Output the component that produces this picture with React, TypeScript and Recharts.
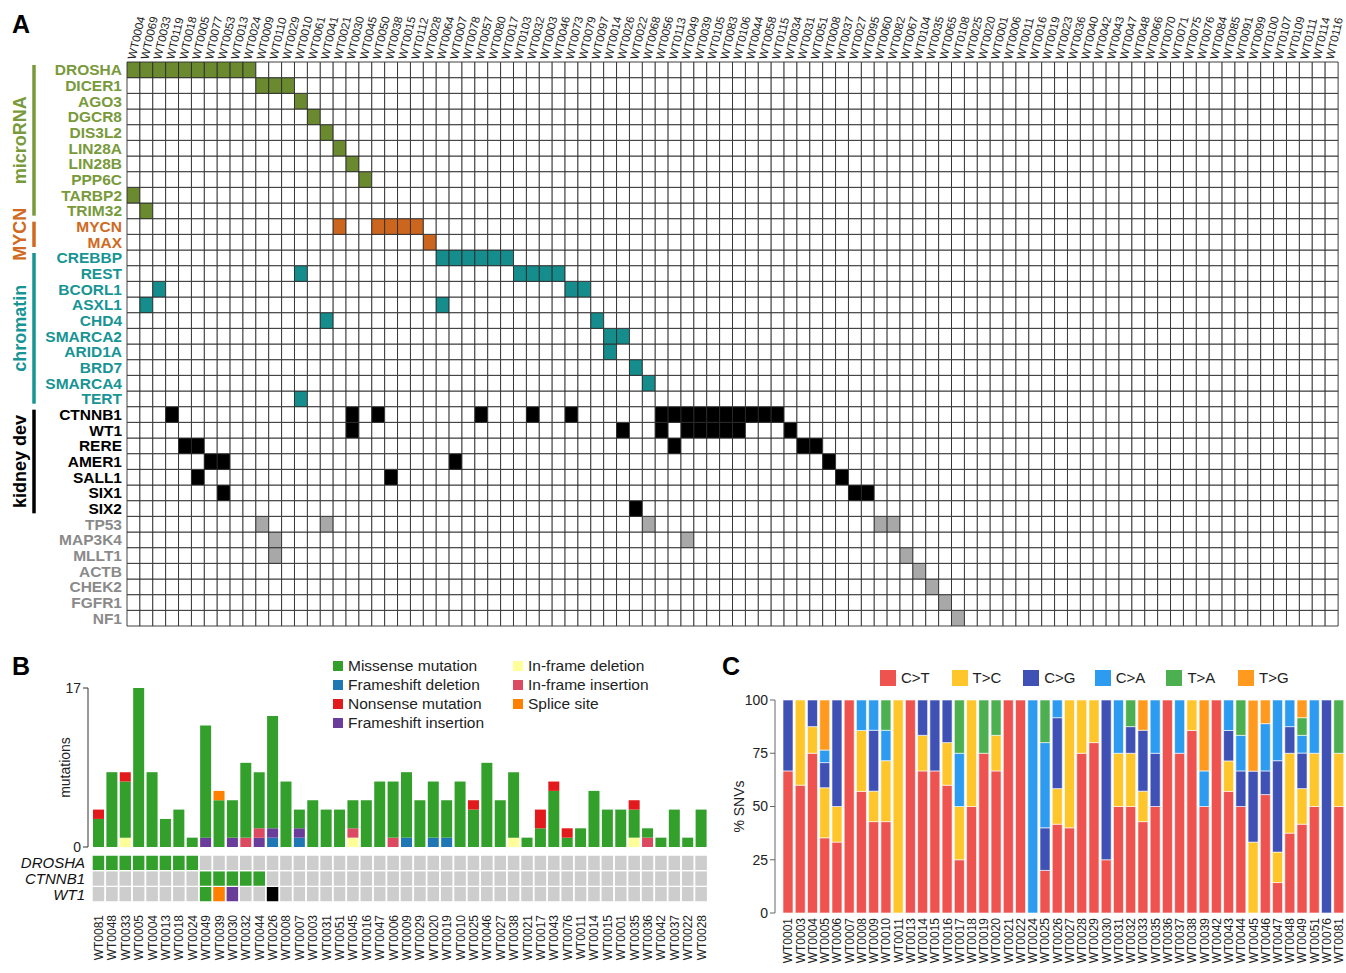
import React from 'react';
import { BarChart, Bar, XAxis, YAxis, Cell, Legend } from 'recharts';

const FONT = '"Liberation Sans", Arial, Helvetica, sans-serif';

// ---------------- Panel A ----------------
const samplesA = [
  'WT0004', 'WT0069', 'WT0033', 'WT0119', 'WT0018', 'WT0005', 'WT0077', 'WT0053', 'WT0013', 'WT0024',
  'WT0009', 'WT0110', 'WT0029', 'WT0010', 'WT0061', 'WT0041', 'WT0021', 'WT0030', 'WT0045', 'WT0050',
  'WT0038', 'WT0015', 'WT0112', 'WT0028', 'WT0064', 'WT0007', 'WT0078', 'WT0057', 'WT0080', 'WT0017',
  'WT0103', 'WT0032', 'WT0003', 'WT0046', 'WT0073', 'WT0079', 'WT0097', 'WT0014', 'WT0026', 'WT0022',
  'WT0068', 'WT0056', 'WT0113', 'WT0049', 'WT0039', 'WT0105', 'WT0083', 'WT0106', 'WT0044', 'WT0058',
  'WT0115', 'WT0034', 'WT0031', 'WT0051', 'WT0008', 'WT0037', 'WT0027', 'WT0095', 'WT0060', 'WT0082',
  'WT0067', 'WT0104', 'WT0035', 'WT0065', 'WT0108', 'WT0025', 'WT0020', 'WT0001', 'WT0006', 'WT0011',
  'WT0016', 'WT0019', 'WT0023', 'WT0036', 'WT0040', 'WT0042', 'WT0043', 'WT0047', 'WT0048', 'WT0066',
  'WT0070', 'WT0071', 'WT0075', 'WT0076', 'WT0084', 'WT0085', 'WT0091', 'WT0099', 'WT0100', 'WT0107',
  'WT0109', 'WT0111', 'WT0114', 'WT0116',
];

const genesMicroRNA = ['DROSHA', 'DICER1', 'AGO3', 'DGCR8', 'DIS3L2', 'LIN28A', 'LIN28B', 'PPP6C', 'TARBP2', 'TRIM32'];
const genesMYCN = ['MYCN', 'MAX'];
const genesChromatin = ['CREBBP', 'REST', 'BCORL1', 'ASXL1', 'CHD4', 'SMARCA2', 'ARID1A', 'BRD7', 'SMARCA4', 'TERT'];
const genesKidney = ['CTNNB1', 'WT1', 'RERE', 'AMER1', 'SALL1', 'SIX1', 'SIX2'];
const genesOther = ['TP53', 'MAP3K4', 'MLLT1', 'ACTB', 'CHEK2', 'FGFR1', 'NF1'];

// mutated samples per gene
const mutatedA: Record<string, string[]> = {
  DROSHA: ['WT0004', 'WT0069', 'WT0033', 'WT0119', 'WT0018', 'WT0005', 'WT0077', 'WT0053', 'WT0013', 'WT0024'],
  DICER1: ['WT0009', 'WT0110', 'WT0029'],
  AGO3: ['WT0010'],
  DGCR8: ['WT0061'],
  DIS3L2: ['WT0041'],
  LIN28A: ['WT0021'],
  LIN28B: ['WT0030'],
  PPP6C: ['WT0045'],
  TARBP2: ['WT0004'],
  TRIM32: ['WT0069'],
  MYCN: ['WT0021', 'WT0050', 'WT0038', 'WT0015', 'WT0112'],
  MAX: ['WT0028'],
  CREBBP: ['WT0064', 'WT0007', 'WT0078', 'WT0057', 'WT0080', 'WT0017'],
  REST: ['WT0010', 'WT0103', 'WT0032', 'WT0003', 'WT0046'],
  BCORL1: ['WT0033', 'WT0073', 'WT0079'],
  ASXL1: ['WT0069', 'WT0064'],
  CHD4: ['WT0041', 'WT0097'],
  SMARCA2: ['WT0014', 'WT0026'],
  ARID1A: ['WT0014'],
  BRD7: ['WT0022'],
  SMARCA4: ['WT0068'],
  TERT: ['WT0010'],
  CTNNB1: ['WT0119', 'WT0030', 'WT0050', 'WT0057', 'WT0032', 'WT0073', 'WT0056', 'WT0113', 'WT0049', 'WT0039',
    'WT0105', 'WT0083', 'WT0106', 'WT0044', 'WT0058', 'WT0115'],
  WT1: ['WT0030', 'WT0026', 'WT0056', 'WT0049', 'WT0039', 'WT0105', 'WT0083', 'WT0106', 'WT0034'],
  RERE: ['WT0018', 'WT0005', 'WT0113', 'WT0031', 'WT0051'],
  AMER1: ['WT0077', 'WT0053', 'WT0007', 'WT0008'],
  SALL1: ['WT0005', 'WT0038', 'WT0037'],
  SIX1: ['WT0053', 'WT0027', 'WT0095'],
  SIX2: ['WT0022'],
  TP53: ['WT0009', 'WT0041', 'WT0068', 'WT0060', 'WT0082'],
  MAP3K4: ['WT0110', 'WT0049'],
  MLLT1: ['WT0110', 'WT0067'],
  ACTB: ['WT0104'],
  CHEK2: ['WT0035'],
  FGFR1: ['WT0065'],
  NF1: ['WT0108'],
};

type Group = { name: string; color: string; fill: string; genes: string[] };
const groupsA: Group[] = [
  { name: 'microRNA', color: '#789a3b', fill: '#6b8a2f', genes: genesMicroRNA },
  { name: 'MYCN', color: '#d06a22', fill: '#cc661e', genes: genesMYCN },
  { name: 'chromatin', color: '#179494', fill: '#168d8d', genes: genesChromatin },
  { name: 'kidney dev', color: '#000000', fill: '#000000', genes: genesKidney },
  { name: '', color: '#8a8a8a', fill: '#a8a8a8', genes: genesOther },
];
const genesA = groupsA.flatMap((g) => g.genes);
const groupOf: Record<string, Group> = {};
groupsA.forEach((g) => g.genes.forEach((gene) => { groupOf[gene] = g; }));

const dataA = samplesA.map((id) => {
  const row: Record<string, any> = { id };
  genesA.forEach((g) => { row[g] = 1; });
  return row;
});

const A_W = 1346;
const A_H = 640;
const A_TOP = 62;
const A_BOTTOM = 14;
const ROW_H = (A_H - A_TOP - A_BOTTOM) / genesA.length;

const TopTick = (props: any) => {
  const { x, y, payload } = props;
  const ax = x - 2;
  return (
    <text x={ax} y={y} transform={`rotate(-77 ${ax} ${y})`} dy="0.35em" textAnchor="start"
      fontSize={11.5} fontFamily={FONT} fill="#222">{payload.value}</text>
  );
};

const GeneTick = (props: any) => {
  const { x, y, payload } = props;
  const i = Math.round(genesA.length - 0.5 - payload.value);
  const gene = genesA[i];
  const grp = groupOf[gene];
  const out: any[] = [
    <text key="t" x={x} y={y} dy="0.36em" textAnchor="end" fontFamily={FONT} fontSize={15.5}
      fontWeight="bold" fill={grp.color}>{gene}</text>,
  ];
  if (grp.name && grp.genes[0] === gene) {
    const top = y - ROW_H / 2 + 3;
    const bottom = y - ROW_H / 2 + grp.genes.length * ROW_H - 3;
    const cy = (top + bottom) / 2;
    out.push(<line key="l" x1={34} x2={34} y1={top} y2={bottom} stroke={grp.color} strokeWidth={3.5} />);
    out.push(
      <text key="g" x={20} y={cy} transform={`rotate(-90 20 ${cy})`} textAnchor="middle" dy="0.36em"
        fontFamily={FONT} fontSize={18} fontWeight="bold" fill={grp.color}>{grp.name}</text>,
    );
  }
  return <g>{out}</g>;
};

// ---------------- Panel B ----------------
const samplesB = [
  'WT0081', 'WT0048', 'WT0033', 'WT0005', 'WT0004', 'WT0013', 'WT0018', 'WT0024', 'WT0049', 'WT0039',
  'WT0030', 'WT0032', 'WT0044', 'WT0026', 'WT0008', 'WT0007', 'WT0003', 'WT0031', 'WT0051', 'WT0045',
  'WT0016', 'WT0047', 'WT0006', 'WT0009', 'WT0029', 'WT0020', 'WT0019', 'WT0010', 'WT0025', 'WT0046',
  'WT0027', 'WT0038', 'WT0021', 'WT0017', 'WT0043', 'WT0076', 'WT0011', 'WT0014', 'WT0015', 'WT0001',
  'WT0035', 'WT0036', 'WT0042', 'WT0037', 'WT0022', 'WT0028',
];
const inframeDel = [0, 0, 1, 0, 0, 0, 0, 0, 0, 0, 0, 0, 0, 0, 0, 0, 0, 0, 0, 1, 0, 0, 0, 0, 0, 0, 0, 0, 0, 0, 0, 1, 0, 0, 0, 0, 0, 0, 0, 0, 1, 0, 0, 0, 0, 0];
const frameshiftDel = [0, 0, 0, 0, 0, 0, 0, 0, 0, 0, 0, 0, 0, 1, 0, 1, 0, 0, 0, 0, 0, 0, 0, 1, 0, 1, 1, 0, 0, 0, 0, 0, 0, 0, 0, 0, 0, 0, 0, 0, 0, 0, 0, 0, 0, 0];
const frameshiftIns = [0, 0, 0, 0, 0, 0, 0, 0, 1, 0, 1, 0, 1, 1, 0, 1, 0, 0, 0, 0, 0, 0, 0, 0, 0, 0, 0, 0, 0, 0, 0, 0, 0, 0, 0, 0, 0, 0, 0, 0, 0, 0, 0, 0, 0, 0];
const inframeIns = [0, 0, 0, 0, 0, 0, 0, 0, 0, 0, 0, 1, 1, 0, 0, 0, 0, 0, 0, 1, 0, 0, 1, 0, 0, 0, 0, 0, 0, 0, 0, 0, 0, 0, 0, 0, 0, 0, 0, 0, 0, 1, 0, 0, 0, 0];
const missense = [3, 8, 6, 17, 8, 3, 4, 1, 12, 5, 4, 8, 6, 12, 7, 2, 5, 4, 4, 3, 5, 7, 6, 7, 5, 6, 4, 7, 4, 9, 5, 7, 1, 2, 6, 1, 2, 6, 4, 4, 3, 1, 1, 4, 1, 4];
const nonsense = [1, 0, 1, 0, 0, 0, 0, 0, 0, 0, 0, 0, 0, 0, 0, 0, 0, 0, 0, 0, 0, 0, 0, 0, 0, 0, 0, 0, 1, 0, 0, 0, 0, 2, 1, 1, 0, 0, 0, 0, 1, 0, 0, 0, 0, 0];
const spliceSite = [0, 0, 0, 0, 0, 0, 0, 0, 0, 1, 0, 0, 0, 0, 0, 0, 0, 0, 0, 0, 0, 0, 0, 0, 0, 0, 0, 0, 0, 0, 0, 0, 0, 0, 0, 0, 0, 0, 0, 0, 0, 0, 0, 0, 0, 0];

const typesB = [
  { key: 'inframeDel', label: 'In-frame deletion', color: '#ffff99', values: inframeDel },
  { key: 'frameshiftDel', label: 'Frameshift deletion', color: '#1f78b4', values: frameshiftDel },
  { key: 'frameshiftIns', label: 'Frameshift insertion', color: '#6a3d9a', values: frameshiftIns },
  { key: 'inframeIns', label: 'In-frame insertion', color: '#dc4a62', values: inframeIns },
  { key: 'missense', label: 'Missense mutation', color: '#33a02c', values: missense },
  { key: 'nonsense', label: 'Nonsense mutation', color: '#e31a1c', values: nonsense },
  { key: 'splice', label: 'Splice site', color: '#ff7f00', values: spliceSite },
];
const colorB: Record<string, string> = {};
typesB.forEach((t) => { colorB[t.key] = t.color; });
colorB.multi = '#000000';
const legendOrderB = ['missense', 'frameshiftDel', 'nonsense', 'frameshiftIns', 'inframeDel', 'inframeIns', 'splice'];

const dataB = samplesB.map((id, i) => {
  const row: Record<string, any> = { id };
  typesB.forEach((t) => { row[t.key] = t.values[i]; });
  return row;
});

const genesB = ['DROSHA', 'CTNNB1', 'WT1'];
const droshaB: [string, string][] = [
  ['WT0081', 'missense'], ['WT0048', 'missense'], ['WT0033', 'missense'], ['WT0005', 'missense'],
  ['WT0004', 'missense'], ['WT0013', 'missense'], ['WT0018', 'missense'], ['WT0024', 'missense'],
];
const ctnnb1B: [string, string][] = [
  ['WT0049', 'missense'], ['WT0039', 'missense'], ['WT0030', 'missense'], ['WT0032', 'missense'], ['WT0044', 'missense'],
];
const wt1B: [string, string][] = [
  ['WT0049', 'missense'], ['WT0039', 'splice'], ['WT0030', 'frameshiftIns'], ['WT0026', 'multi'],
];
const geneHitsB: Record<string, [string, string][]> = { DROSHA: droshaB, CTNNB1: ctnnb1B, WT1: wt1B };
const dataB2 = samplesB.map((id) => {
  const row: Record<string, any> = { id };
  genesB.forEach((g) => { row[g] = 1; });
  return row;
});

const LegendBContent = () => (
  <div style={{
    display: 'grid', gridTemplateColumns: '180px 175px', gridAutoFlow: 'column',
    gridTemplateRows: 'repeat(4, 19px)', fontFamily: FONT, fontSize: 15.5, color: '#222', whiteSpace: 'nowrap',
  }}>
    {legendOrderB.map((k) => {
      const t = typesB.find((x) => x.key === k)!;
      return (
        <div key={k} style={{ display: 'flex', alignItems: 'center' }}>
          <span style={{ display: 'inline-block', width: 10, height: 10, background: t.color, marginRight: 5 }} />
          {t.label}
        </div>
      );
    })}
  </div>
);

const GeneTickB = (props: any) => {
  const { x, y, payload } = props;
  const i = Math.round(genesB.length - 0.5 - payload.value);
  return (
    <text x={x} y={y} dy="0.36em" textAnchor="end" fontFamily={FONT} fontSize={15}
      fontStyle="italic" fill="#111">{genesB[i]}</text>
  );
};

const VertTick = (props: any) => {
  const { x, y, payload } = props;
  return (
    <text x={x} y={y} transform={`rotate(-90 ${x} ${y})`} dy="0.36em" textAnchor="end"
      fontFamily={FONT} fontSize={12} fill="#222">{payload.value}</text>
  );
};

// ---------------- Panel C ----------------
const samplesC = [
  'WT0001', 'WT0003', 'WT0004', 'WT0005', 'WT0006', 'WT0007', 'WT0008', 'WT0009', 'WT0010', 'WT0011',
  'WT0013', 'WT0014', 'WT0015', 'WT0016', 'WT0017', 'WT0018', 'WT0019', 'WT0020', 'WT0021', 'WT0022',
  'WT0024', 'WT0025', 'WT0026', 'WT0027', 'WT0028', 'WT0029', 'WT0030', 'WT0031', 'WT0032', 'WT0033',
  'WT0035', 'WT0036', 'WT0037', 'WT0038', 'WT0039', 'WT0042', 'WT0043', 'WT0044', 'WT0045', 'WT0046',
  'WT0047', 'WT0048', 'WT0049', 'WT0051', 'WT0076', 'WT0081',
];
const pctCT = [66.7, 60, 75, 35.3, 33.3, 100, 57.1, 42.9, 42.9, 0, 100, 66.7, 66.7, 60, 25, 50, 75, 66.7, 100, 100,
  0, 20, 41.7, 40, 75, 80, 25, 50, 50, 42.9, 50, 100, 75, 85.7, 50, 100, 57.1, 50, 0, 55.6, 14.3, 37.5, 41.7, 50, 0, 50];
const pctTC = [0, 40, 12.5, 23.5, 16.7, 0, 28.6, 14.3, 28.6, 100, 0, 16.7, 0, 20, 25, 50, 0, 16.7, 0, 0,
  0, 0, 16.7, 60, 25, 20, 0, 25, 25, 14.3, 0, 0, 0, 14.3, 0, 0, 14.3, 0, 33.3, 0, 14.3, 37.5, 16.7, 25, 0, 25];
const pctCG = [33.3, 0, 12.5, 11.8, 50, 0, 0, 28.6, 0, 0, 0, 16.7, 33.3, 20, 0, 0, 0, 0, 0, 0,
  0, 20, 33.3, 0, 0, 0, 75, 0, 12.5, 28.6, 25, 0, 0, 0, 0, 0, 14.3, 16.7, 33.3, 11.1, 42.9, 12.5, 16.7, 0, 100, 0];
const pctCA = [0, 0, 0, 5.9, 0, 0, 14.3, 14.3, 14.3, 0, 0, 0, 0, 0, 25, 0, 0, 0, 0, 0,
  100, 40, 8.3, 0, 0, 0, 0, 25, 0, 0, 25, 0, 25, 0, 16.7, 0, 14.3, 16.7, 0, 22.2, 28.6, 12.5, 8.3, 25, 0, 0];
const pctTA = [0, 0, 0, 0, 0, 0, 0, 0, 14.3, 0, 0, 0, 0, 0, 25, 0, 25, 16.7, 0, 0,
  0, 20, 0, 0, 0, 0, 0, 0, 12.5, 0, 0, 0, 0, 0, 0, 0, 0, 16.7, 0, 0, 0, 0, 8.3, 0, 0, 25];
const pctTG = [0, 0, 0, 23.5, 0, 0, 0, 0, 0, 0, 0, 0, 0, 0, 0, 0, 0, 0, 0, 0,
  0, 0, 0, 0, 0, 0, 0, 0, 0, 14.3, 0, 0, 0, 0, 33.3, 0, 0, 0, 33.3, 11.1, 0, 0, 8.3, 0, 0, 0];

const typesC = [
  { key: 'CT', label: 'C>T', color: '#ef5350', values: pctCT },
  { key: 'TC', label: 'T>C', color: '#ffc62b', values: pctTC },
  { key: 'CG', label: 'C>G', color: '#3f51b5', values: pctCG },
  { key: 'CA', label: 'C>A', color: '#2d9bf0', values: pctCA },
  { key: 'TA', label: 'T>A', color: '#4caf50', values: pctTA },
  { key: 'TG', label: 'T>G', color: '#ff9a1e', values: pctTG },
];
const dataC = samplesC.map((id, i) => {
  const row: Record<string, any> = { id };
  typesC.forEach((t) => { row[t.key] = t.values[i]; });
  return row;
});

const LegendCContent = () => (
  <div style={{ display: 'flex', fontFamily: FONT, fontSize: 15, color: '#222', whiteSpace: 'nowrap' }}>
    {typesC.map((t) => (
      <div key={t.key} style={{ width: 71.6, display: 'flex', alignItems: 'center' }}>
        <span style={{ display: 'inline-block', width: 16, height: 16, background: t.color, marginRight: 5 }} />
        {t.label}
      </div>
    ))}
  </div>
);

const letterStyle: React.CSSProperties = {
  position: 'absolute', fontFamily: FONT, fontWeight: 'bold', fontSize: 25, color: '#000', lineHeight: '25px',
};

export default function App() {
  return (
    <div style={{ position: 'absolute', left: 0, top: 0, width: 1346, height: 973, background: '#fff', fontFamily: FONT, overflow: 'hidden' }}>
      {/* Panel A */}
      <div style={{ position: 'absolute', left: 0, top: 0 }}>
        <BarChart width={A_W} height={A_H} data={dataA} margin={{ top: 0, right: 8, bottom: A_BOTTOM, left: 0 }}
          barCategoryGap={0} barGap={0}>
          <XAxis dataKey="id" orientation="top" interval={0} height={A_TOP} tickLine={false} axisLine={false}
            tickSize={0} tickMargin={3} tick={<TopTick />} />
          <YAxis type="number" domain={[0, genesA.length]} ticks={genesA.map((_, i) => genesA.length - i - 0.5)}
            interval={0} width={127} tickLine={false} axisLine={false} tickSize={0} tickMargin={5} tick={<GeneTick />} />
          {[...genesA].reverse().map((g) => (
            <Bar key={g} dataKey={g} stackId="a" isAnimationActive={false} stroke="#2a2a2a" strokeWidth={0.9}>
              {samplesA.map((s) => (
                <Cell key={s} fill={mutatedA[g].includes(s) ? groupOf[g].fill : '#ffffff'} />
              ))}
            </Bar>
          ))}
        </BarChart>
      </div>

      {/* Panel B bars */}
      <div style={{ position: 'absolute', left: 0, top: 640 }}>
        <BarChart width={720} height={220} data={dataB} margin={{ top: 48, right: 12, bottom: 13, left: 0 }}
          barCategoryGap={1}>
          <XAxis dataKey="id" hide padding={{ left: 4, right: 0 }} />
          <YAxis type="number" domain={[0, 17]} ticks={[0, 17]} interval={0} width={88}
            axisLine={{ stroke: '#333' }} tickLine={{ stroke: '#333' }} tickSize={5}
            tick={{ fontSize: 14, fill: '#222', fontFamily: FONT }}
            label={{ value: 'mutations', angle: -90, position: 'center', dx: 21, style: { fontSize: 14, fill: '#222', fontFamily: FONT } }} />
          {typesB.map((t) => (
            <Bar key={t.key} dataKey={t.key} stackId="m" fill={t.color} isAnimationActive={false} />
          ))}
          <Legend layout="vertical" align="center" verticalAlign="middle" content={() => <LegendBContent />}
            wrapperStyle={{ left: 333, top: 16, width: 375, height: 80 }} />
        </BarChart>
      </div>

      {/* Panel B gene rows */}
      <div style={{ position: 'absolute', left: 0, top: 852 }}>
        <BarChart width={720} height={121} data={dataB2} margin={{ top: 3, right: 12, bottom: 0, left: 0 }}
          barCategoryGap={0} barGap={0}>
          <XAxis dataKey="id" interval={0} height={71} tickLine={false} axisLine={false} tickSize={0} tickMargin={13}
            padding={{ left: 4, right: 0 }} tick={<VertTick />} />
          <YAxis type="number" domain={[0, 3]} ticks={[2.5, 1.5, 0.5]} interval={0} width={88}
            axisLine={false} tickLine={false} tickSize={0} tickMargin={3} tick={<GeneTickB />} />
          {[...genesB].reverse().map((g) => (
            <Bar key={g} dataKey={g} stackId="g" isAnimationActive={false} stroke="#ffffff" strokeWidth={1.4}>
              {samplesB.map((s) => {
                const hit = geneHitsB[g].find((h) => h[0] === s);
                return <Cell key={s} fill={hit ? colorB[hit[1]] : '#cdcdcd'} />;
              })}
            </Bar>
          ))}
        </BarChart>
      </div>

      {/* Panel C */}
      <div style={{ position: 'absolute', left: 720, top: 650 }}>
        <BarChart width={626} height={323} data={dataC} margin={{ top: 50, right: 1, bottom: 0, left: 0 }}
          barCategoryGap={1}>
          <XAxis dataKey="id" interval={0} height={60} tickLine={false} axisLine={false} tickSize={0} tickMargin={5}
            padding={{ left: 7, right: 0 }} tick={<VertTick />} />
          <YAxis type="number" domain={[0, 100]} allowDataOverflow ticks={[0, 25, 50, 75, 100]} interval={0} width={55}
            axisLine={{ stroke: '#666' }} tickLine={{ stroke: '#666' }} tickSize={5}
            tick={{ fontSize: 14, fill: '#222', fontFamily: FONT }}
            label={{ value: '% SNVs', angle: -90, position: 'center', dx: -8, style: { fontSize: 14, fill: '#222', fontFamily: FONT } }} />
          {typesC.map((t) => (
            <Bar key={t.key} dataKey={t.key} stackId="s" fill={t.color} stroke="#ffffff" strokeWidth={0.6}
              isAnimationActive={false} />
          ))}
          <Legend layout="vertical" align="center" verticalAlign="middle" content={() => <LegendCContent />}
            wrapperStyle={{ left: 160, top: 19, width: 440, height: 20 }} />
        </BarChart>
      </div>

      <div style={{ ...letterStyle, left: 12, top: 12 }}>A</div>
      <div style={{ ...letterStyle, left: 12, top: 654 }}>B</div>
      <div style={{ ...letterStyle, left: 722, top: 654 }}>C</div>
    </div>
  );
}
